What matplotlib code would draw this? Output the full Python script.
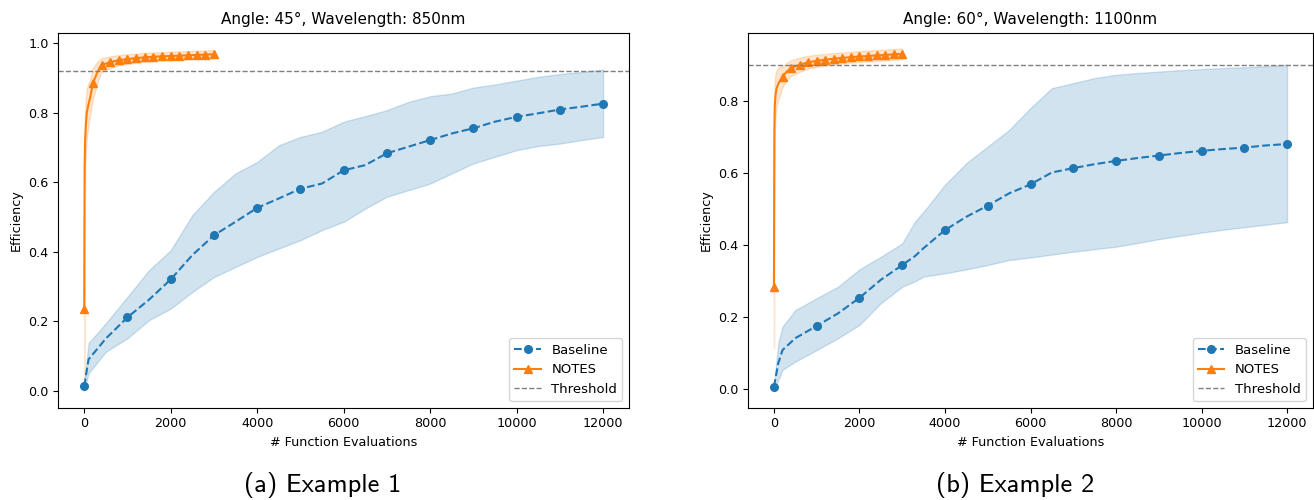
import numpy as np
import matplotlib
matplotlib.use("Agg")
import matplotlib.pyplot as plt

# ---------------- data ----------------
titles = ["Angle: 45°, Wavelength: 850nm", "Angle: 60°, Wavelength: 1100nm"]
captions = ["(a) Example 1", "(b) Example 2"]
thresholds = [0.92, 0.90]

# Baseline (left panel)
base_x_a = [0, 100, 500, 1000, 1500, 2000, 2500, 3000, 3500, 4000, 4500, 5000, 5500,
            6000, 6500, 7000, 7500, 8000, 8500, 9000, 9500, 10000, 10500, 11000, 11500, 12000]
base_mean_a = [0.013, 0.09, 0.15, 0.211, 0.262, 0.320, 0.39, 0.447, 0.486, 0.526, 0.553, 0.581, 0.596,
               0.634, 0.649, 0.683, 0.702, 0.721, 0.74, 0.755, 0.774, 0.788, 0.798, 0.809, 0.817, 0.826]
base_upper_a = [0.02, 0.137, 0.194, 0.27, 0.347, 0.404, 0.505, 0.572, 0.625, 0.658, 0.706, 0.730, 0.745,
                0.774, 0.790, 0.807, 0.831, 0.847, 0.855, 0.872, 0.881, 0.892, 0.903, 0.911, 0.917, 0.924]
base_lower_a = [0.0, 0.05, 0.112, 0.151, 0.203, 0.236, 0.284, 0.327, 0.356, 0.385, 0.409, 0.433, 0.462,
                0.486, 0.524, 0.558, 0.577, 0.596, 0.625, 0.654, 0.673, 0.692, 0.704, 0.711, 0.721, 0.730]

# Baseline (right panel)
base_x_b = [0, 100, 200, 500, 1000, 1500, 2000, 2500, 3000, 3300, 3500, 4000, 4500, 5000, 5500,
            6000, 6500, 7000, 7500, 8000, 8500, 9000, 9500, 10000, 10500, 11000, 11500, 12000]
base_mean_b = [0.007, 0.072, 0.109, 0.142, 0.176, 0.211, 0.254, 0.304, 0.345, 0.37, 0.392, 0.442, 0.479,
               0.510, 0.544, 0.569, 0.602, 0.614, 0.625, 0.634, 0.642, 0.649, 0.656, 0.662, 0.667,
               0.671, 0.677, 0.681]
base_upper_b = [0.01, 0.128, 0.174, 0.22, 0.253, 0.285, 0.333, 0.368, 0.405, 0.466, 0.493, 0.568, 0.628,
                0.674, 0.720, 0.781, 0.836, 0.850, 0.864, 0.873, 0.878, 0.882, 0.886, 0.889, 0.892,
                0.894, 0.897, 0.901]
base_lower_b = [0.0, 0.026, 0.054, 0.077, 0.109, 0.142, 0.179, 0.239, 0.285, 0.30, 0.313, 0.322, 0.333,
                0.345, 0.359, 0.366, 0.374, 0.382, 0.389, 0.396, 0.406, 0.417, 0.426, 0.435, 0.443,
                0.45, 0.457, 0.464]

# NOTES
notes_x = [0, 5, 10, 20, 40, 60, 100, 140, 200, 300, 400, 600, 800, 1000, 1200, 1400,
           1600, 1800, 2000, 2200, 2400, 2600, 2800, 3000]
notes_mean_a = [0.234, 0.50, 0.65, 0.72, 0.77, 0.80, 0.825, 0.845, 0.884, 0.915, 0.937, 0.945,
                0.951, 0.954, 0.957, 0.959, 0.961, 0.962, 0.963, 0.964, 0.965, 0.966, 0.967, 0.968]
notes_spread_a = [0.2, 0.15, 0.10, 0.09, 0.08, 0.07, 0.06, 0.05, 0.045, 0.03, 0.02, 0.017,
                  0.015, 0.014, 0.013, 0.013, 0.012, 0.012, 0.012, 0.012, 0.012, 0.012, 0.012, 0.012]
notes_mean_b = [0.285, 0.55, 0.72, 0.79, 0.82, 0.835, 0.848, 0.856, 0.868, 0.882, 0.892, 0.901,
                0.908, 0.912, 0.915, 0.918, 0.920, 0.922, 0.924, 0.925, 0.927, 0.928, 0.930, 0.931]
notes_spread_b = [0.17, 0.13, 0.09, 0.07, 0.06, 0.05, 0.045, 0.04, 0.028, 0.025, 0.022, 0.02,
                  0.018, 0.017, 0.016, 0.016, 0.015, 0.015, 0.015, 0.015, 0.015, 0.015, 0.015, 0.015]

ylims = [(-0.049, 1.030), (-0.051, 0.990)]
yticks = [[0.0, 0.2, 0.4, 0.6, 0.8, 1.0], [0.0, 0.2, 0.4, 0.6, 0.8]]

panels = [
    (base_x_a, base_mean_a, base_lower_a, base_upper_a, notes_mean_a, notes_spread_a),
    (base_x_b, base_mean_b, base_lower_b, base_upper_b, notes_mean_b, notes_spread_b),
]

# ---------------- plot ----------------
W, H = 1314, 500
fig = plt.figure(figsize=(W / 100, H / 100), dpi=100)
axes_px = [(58.3, 629.0), (748.3, 1312.7)]
top_px, bot_px = 32.7, 407.7

for i, (bx, bm, bl, bu, nm, ns) in enumerate(panels):
    l, r = axes_px[i]
    ax = fig.add_axes([l / W, 1 - bot_px / H, (r - l) / W, (bot_px - top_px) / H])
    bx = np.array(bx)
    nx = np.array(notes_x)
    nm = np.array(nm)
    ns = np.array(ns)
    bmark = [k for k, v in enumerate(bx) if v % 1000 == 0]
    nmark = [k for k, v in enumerate(nx) if v % 200 == 0]

    ax.plot(bx, bm, color="C0", linestyle="--", marker="o", markersize=5.5,
            markevery=bmark, linewidth=1.5, label="Baseline")
    ax.fill_between(bx, bl, bu, color="C0", alpha=0.2)
    ax.plot(nx, nm, color="C1", linestyle="-", marker="^", markersize=6,
            markevery=nmark, linewidth=1.5, label="NOTES")
    ax.fill_between(nx, nm - ns, nm + ns, color="C1", alpha=0.2)
    ax.axhline(thresholds[i], color="gray", linestyle="--", linewidth=1.0, label="Threshold")

    ax.set_xlim(-600, 12600)
    ax.set_ylim(*ylims[i])
    ax.set_yticks(yticks[i])
    ax.set_xticks([0, 2000, 4000, 6000, 8000, 10000, 12000])
    ax.tick_params(labelsize=9.2)
    ax.set_title(titles[i], fontsize=11)
    ax.set_xlabel("# Function Evaluations", fontsize=9.2)
    ax.set_ylabel("Efficiency", fontsize=9.2)
    ax.legend(loc="lower right", fontsize=9.5)

cap_x = [323, 1015]
for i, c in enumerate(captions):
    fig.text(cap_x[i] / W, 1 - 485 / H, c, ha="center", va="center",
             fontsize=19, family=["cmss10", "DejaVu Sans"])

fig.savefig("out.png", dpi=100)
